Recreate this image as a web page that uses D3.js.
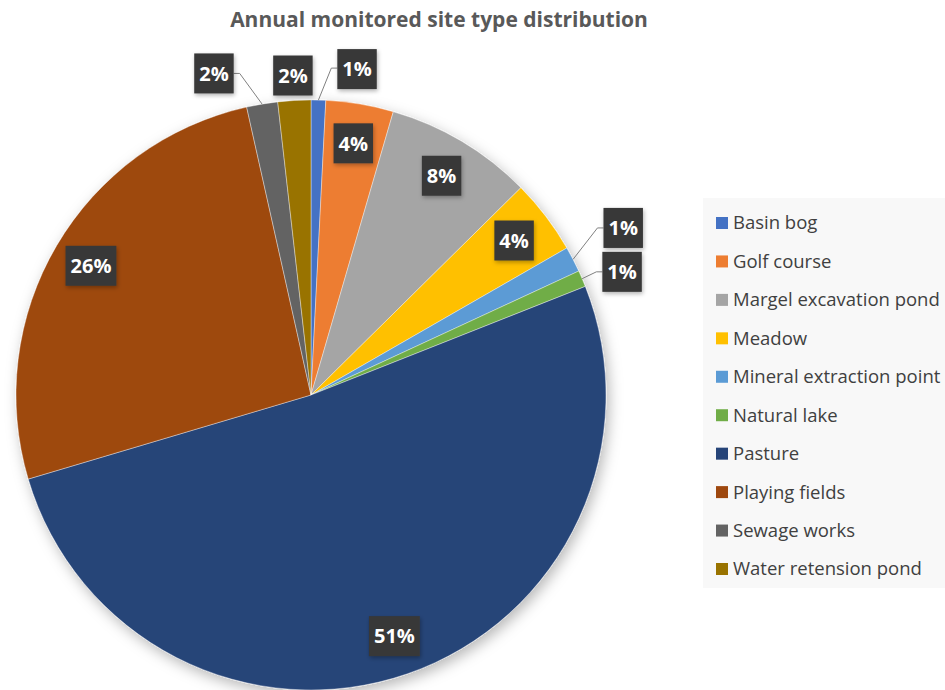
<!DOCTYPE html>
<html>
<head>
<meta charset="utf-8">
<script src="https://cdn.jsdelivr.net/npm/d3@7"></script>
<style>
  html, body { margin: 0; padding: 0; background: #ffffff; }
  svg { display: block; }
</style>
</head>
<body>
<svg id="chart" width="945" height="690"></svg>
<script>
// Site types, in the order they run clockwise from 12 o'clock
const categories = [
  "Basin bog",
  "Golf course",
  "Margel excavation pond",
  "Meadow",
  "Mineral extraction point",
  "Natural lake",
  "Pasture",
  "Playing fields",
  "Sewage works",
  "Water retension pond"
];

// Share of monitored sites (percent)
const shares = [0.8, 3.7, 8.1, 4.1, 1.4, 0.9, 51.4, 26.1, 1.7, 1.8];

// Slice colours
const colors = [
  "#4472c4", "#ed7d31", "#a5a5a5", "#ffc000", "#5b9bd5",
  "#70ad47", "#264478", "#9e480e", "#636363", "#997300"
];

const title = "Annual monitored site type distribution";

// Labels placed outside the pie, and how far each callout is dragged from its default spot
const calloutShift = {
  "Basin bog": [38, -6],
  "Mineral extraction point": [28, -20],
  "Natural lake": [17, 3],
  "Sewage works": [-44, -6],
  "Water retension pond": [0, 0]
};

const svg = d3.select("#chart");
const cx = 311, cy = 395, r = 295;

const defs = svg.append("defs");
const pieShadow = defs.append("filter").attr("id", "pieShadow")
  .attr("x", "-20%").attr("y", "-20%").attr("width", "140%").attr("height", "140%");
pieShadow.append("feDropShadow")
  .attr("dx", 3).attr("dy", 5).attr("stdDeviation", 7)
  .attr("flood-color", "#000").attr("flood-opacity", 0.28);

const boxShadow = defs.append("filter").attr("id", "boxShadow")
  .attr("x", "-30%").attr("y", "-30%").attr("width", "160%").attr("height", "160%");
boxShadow.append("feDropShadow")
  .attr("dx", 1).attr("dy", 2).attr("stdDeviation", 2)
  .attr("flood-color", "#000").attr("flood-opacity", 0.3);

// Title
svg.append("text")
  .attr("x", 439).attr("y", 27)
  .attr("text-anchor", "middle")
  .attr("font-family", "'Open Sans', sans-serif")
  .attr("font-weight", 700)
  .attr("font-size", 21)
  .attr("fill", "#595959")
  .text(title);

const data = categories.map((c, i) => ({ name: c, value: shares[i], color: colors[i] }));

const pie = d3.pie().sort(null).value(d => d.value);
const arcs = pie(data);
const arc = d3.arc().innerRadius(0).outerRadius(r);

const g = svg.append("g").attr("transform", `translate(${cx},${cy})`);

g.append("g").attr("filter", "url(#pieShadow)")
  .selectAll("path")
  .data(arcs)
  .join("path")
  .attr("d", arc)
  .attr("fill", d => d.data.color)
  .attr("stroke", "rgba(255,255,255,0.55)")
  .attr("stroke-width", 0.7);

// Data labels
const polar = (angle, rad) => [rad * Math.sin(angle), -rad * Math.cos(angle)];
const labelG = g.append("g");
const boxH = 40;

arcs.forEach(d => {
  const mid = (d.startAngle + d.endAngle) / 2;
  const txt = Math.round(d.data.value) + "%";
  const shift = calloutShift[d.data.name];
  let pos;
  if (shift) {
    const p = polar(mid, r + 25);
    pos = [p[0] + shift[0], p[1] + shift[1]];
  } else {
    pos = polar(mid, r * 0.865);
  }
  const lg = labelG.append("g").attr("transform", `translate(${pos[0]},${pos[1]})`);
  const rect = lg.append("rect").attr("fill", "#383838").attr("filter", "url(#boxShadow)");
  const t = lg.append("text")
    .attr("text-anchor", "middle")
    .attr("dy", "0.36em")
    .attr("font-family", "'Open Sans', sans-serif")
    .attr("font-weight", 700)
    .attr("font-size", 20)
    .attr("fill", "#ffffff")
    .text(txt);
  const w = t.node().getComputedTextLength() + 10;
  rect.attr("x", -w / 2).attr("y", -boxH / 2).attr("width", w).attr("height", boxH);

  // Leader line for callouts moved away from the slice
  if (shift && (Math.abs(shift[0]) > 5 || Math.abs(shift[1]) > 5)) {
    const edge = polar(mid, r);
    const side = pos[0] - w / 2 > edge[0] ? -1 : 1;
    const bx = pos[0] + side * w / 2;
    const by = pos[1] + (d.data.name === "Basin bog" ? -1 : 0);
    g.insert("path", () => labelG.node())
      .attr("d", d3.line()([edge, [bx + side * 6, by], [bx, by]]))
      .attr("fill", "none")
      .attr("stroke", "#808080")
      .attr("stroke-width", 1);
  }
});

// Legend
const legX = 703, legY = 198, legW = 242, legH = 390;
svg.append("rect")
  .attr("x", legX).attr("y", legY).attr("width", legW).attr("height", legH)
  .attr("fill", "#f8f8f8");

const rowY = d3.scalePoint().domain(categories).range([223, 569]);
const leg = svg.append("g").selectAll("g")
  .data(data)
  .join("g")
  .attr("transform", d => `translate(716,${rowY(d.name)})`);
leg.append("rect")
  .attr("x", 0).attr("y", -6).attr("width", 12).attr("height", 12)
  .attr("fill", d => d.color);
leg.append("text")
  .attr("x", 17).attr("dy", "0.35em")
  .attr("font-family", "'Open Sans', sans-serif")
  .attr("font-size", 18.5)
  .attr("fill", "#404040")
  .text(d => d.name);
</script>
</body>
</html>
